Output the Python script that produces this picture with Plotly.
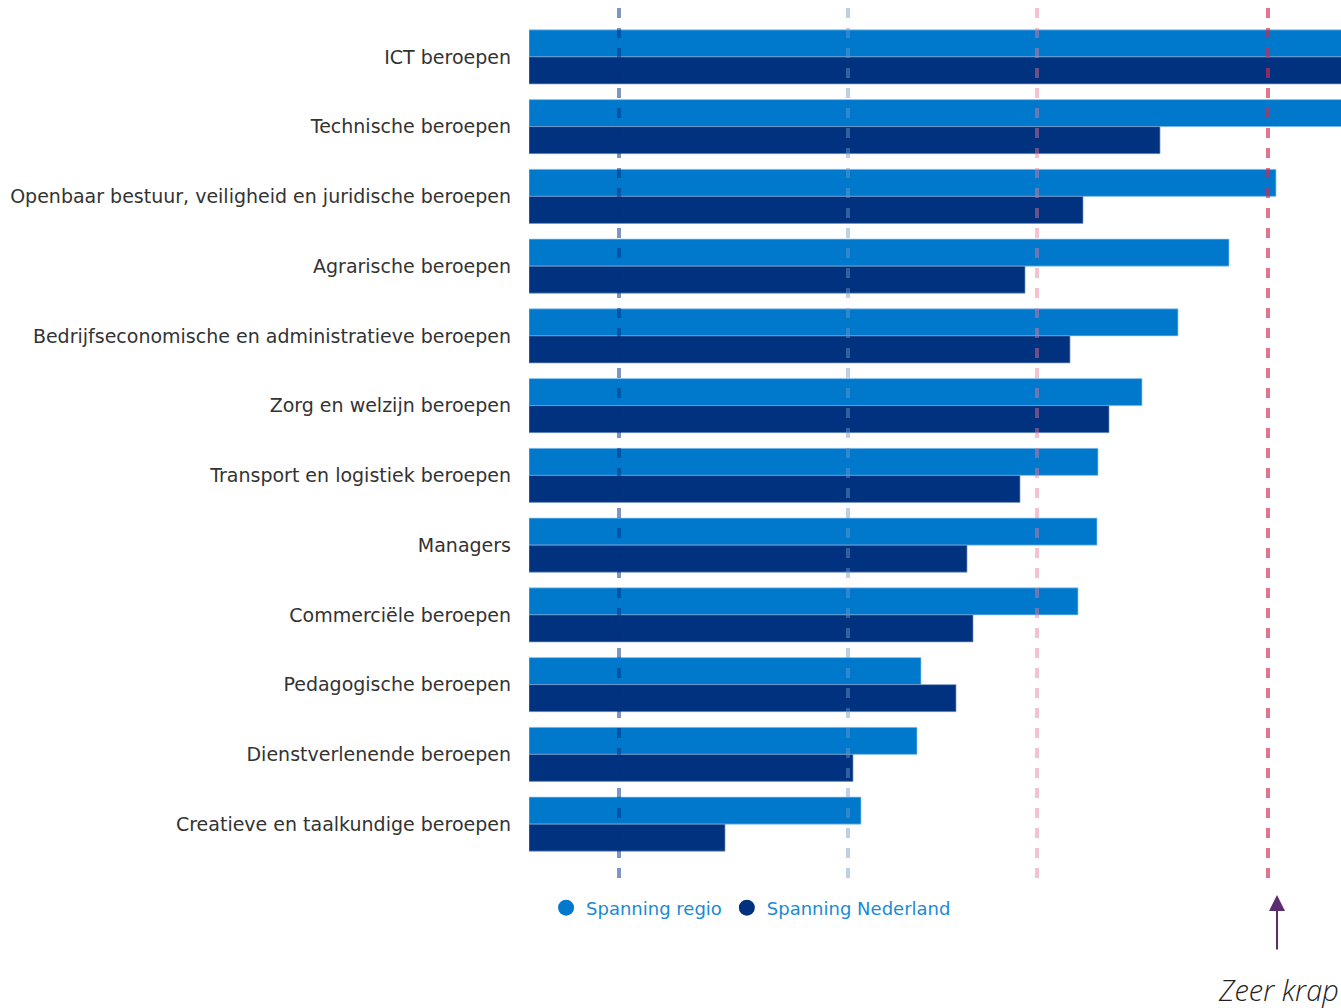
import plotly.graph_objects as go

# Occupational groups, top to bottom
beroepen = [
    "ICT beroepen",
    "Technische beroepen",
    "Openbaar bestuur, veiligheid en juridische beroepen",
    "Agrarische beroepen",
    "Bedrijfseconomische en administratieve beroepen",
    "Zorg en welzijn beroepen",
    "Transport en logistiek beroepen",
    "Managers",
    "Commerciële beroepen",
    "Pedagogische beroepen",
    "Dienstverlenende beroepen",
    "Creatieve en taalkundige beroepen",
]

# Labour market tension index per group
spanning_regio = [8.60, 8.40, 7.47, 7.00, 6.49, 6.13, 5.69, 5.68, 5.49, 3.92, 3.88, 3.32]
spanning_nederland = [8.50, 6.31, 5.54, 4.96, 5.41, 5.80, 4.91, 4.38, 4.44, 4.27, 3.24, 1.96]

# Category thresholds (zeer ruim / ruim / gemiddeld / krap boundaries)
drempels = [0.90, 3.19, 5.08, 7.39]
drempel_kleuren = [
    "rgba(0,48,130,0.50)",
    "rgba(110,150,200,0.45)",
    "rgba(236,120,150,0.45)",
    "rgba(214,40,80,0.65)",
]

KLEUR_REGIO = "#0078cc"
KLEUR_NL = "#00327f"
LABEL_FONT = "DejaVu Sans"

fig = go.Figure()

fig.add_trace(go.Bar(
    y=beroepen, x=spanning_regio, orientation="h", name="Spanning regio",
    marker=dict(color=KLEUR_REGIO, line=dict(color="rgba(150,200,240,0.7)", width=1)),
    showlegend=False,
))
fig.add_trace(go.Bar(
    y=beroepen, x=spanning_nederland, orientation="h", name="Spanning Nederland",
    marker=dict(color=KLEUR_NL, line=dict(color="rgba(120,150,200,0.7)", width=1)),
    showlegend=False,
))

# Circular legend markers
for naam, kleur in [("Spanning regio", KLEUR_REGIO), ("Spanning Nederland", KLEUR_NL)]:
    fig.add_trace(go.Scatter(
        x=[None], y=[None], mode="markers", name=naam,
        marker=dict(symbol="circle", size=16, color=kleur),
    ))

for x, kleur in zip(drempels, drempel_kleuren):
    fig.add_shape(
        type="line", xref="x", yref="paper", x0=x, x1=x, y0=-0.0227, y1=1.026,
        line=dict(color=kleur, width=4, dash="10px,10px"), layer="above",
    )

# Arrow marking the "zeer krap" zone
fig.add_annotation(
    xref="x", yref="paper", x=7.48, y=-0.043, text="", showarrow=True,
    axref="pixel", ayref="pixel", ax=0, ay=56,
    arrowhead=2, arrowsize=1.6, arrowwidth=2, arrowcolor="#5b2d6e",
)
fig.add_annotation(
    xref="paper", yref="paper", x=1.0, y=-0.1565, xanchor="right", yanchor="middle",
    text="<i>Zeer krap</i>", showarrow=False,
    font=dict(family="Open Sans", size=29, color="#222222", weight=300),
)

fig.update_layout(
    width=1341, height=1008,
    margin=dict(l=529, r=0, t=22, b=149),
    paper_bgcolor="white", plot_bgcolor="white",
    barmode="group", bargap=0.225, bargroupgap=0,
    font=dict(family=LABEL_FONT, size=19, color="#333333"),
    xaxis=dict(range=[0, 8.12], visible=False, showgrid=False, zeroline=False),
    yaxis=dict(autorange="reversed", showgrid=False, zeroline=False, showline=False,
               ticks="", ticklabelstandoff=17,
               tickfont=dict(family=LABEL_FONT, size=19, color="#333333")),
    legend=dict(
        orientation="h", x=0.021, xanchor="left", y=-0.0585, yanchor="middle",
        font=dict(family=LABEL_FONT, size=18, color="#1a8ad4"),
        itemwidth=30, bgcolor="rgba(0,0,0,0)",
    ),
)

fig.write_html("out.html")
